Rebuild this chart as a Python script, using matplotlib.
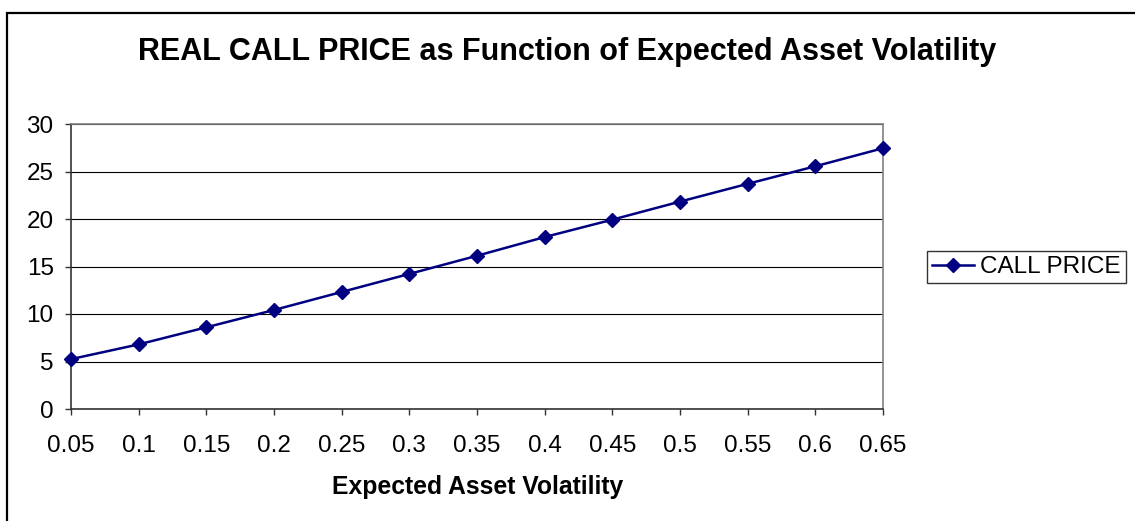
import matplotlib
matplotlib.use("Agg")
import matplotlib.pyplot as plt
from matplotlib.patches import Rectangle

plt.rcParams['font.family'] = ['Liberation Sans', 'DejaVu Sans']

# data
volatility = ["0.05", "0.1", "0.15", "0.2", "0.25", "0.3", "0.35",
              "0.4", "0.45", "0.5", "0.55", "0.6", "0.65"]
call_price = [5.25, 6.80, 8.60, 10.42, 12.32, 14.22, 16.13,
              18.10, 19.93, 21.83, 23.70, 25.55, 27.45]
y_ticks = [0, 5, 10, 15, 20, 25, 30]

W, H = 1135, 521
fig = plt.figure(figsize=(W / 100, H / 100), dpi=100)
fig.patch.set_facecolor("white")

# outer chart border (right/bottom run off the image)
fig.patches.append(Rectangle((6.5 / W, -0.1), 1.2, 1 - 13 / H + 0.1,
                             transform=fig.transFigure, fill=False,
                             edgecolor="black", linewidth=1.6))

ax = fig.add_axes([71 / W, (H - 409) / H, (883 - 71) / W, (409 - 124) / H])
x = list(range(len(volatility)))
ax.plot(x, call_price, color="#000080", linewidth=1.8, marker="D",
        markersize=7, label="CALL PRICE", clip_on=False, zorder=3)

ax.set_xlim(0, len(volatility) - 1)
ax.set_ylim(0, 30)
ax.set_xticks(x)
ax.set_xticklabels(volatility)
ax.set_yticks(y_ticks)
ax.yaxis.grid(True, color="black", linewidth=0.8)
ax.set_axisbelow(True)

for side in ["top", "right"]:
    ax.spines[side].set_color("#808080")
    ax.spines[side].set_linewidth(1.2)
for side in ["left", "bottom"]:
    ax.spines[side].set_color("#333333")
    ax.spines[side].set_linewidth(1.2)

ax.tick_params(axis="both", direction="out", length=4.5, width=1.0,
               color="#333333", labelsize=17.5)
ax.tick_params(axis="x", pad=14.5)
ax.tick_params(axis="y", pad=8)

fig.text(0.5, (H - 52) / H, "REAL CALL PRICE as Function of Expected Asset Volatility",
         ha="center", va="center", fontsize=22, fontweight="bold")
fig.text(478 / W, (H - 487) / H, "Expected Asset Volatility",
         ha="center", va="center", fontsize=17.8, fontweight="bold")

fig.legend(loc="center left", bbox_to_anchor=(927 / W, (H - 267) / H),
           fontsize=17.5, frameon=True, fancybox=False, edgecolor="black",
           borderpad=0.2, handlelength=1.75, handletextpad=0.25,
           borderaxespad=0)

fig.savefig("out.png", dpi=100)
